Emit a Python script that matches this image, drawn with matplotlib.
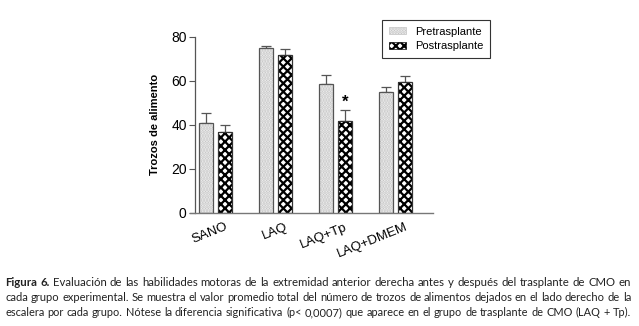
import matplotlib
matplotlib.use("Agg")
import matplotlib.pyplot as plt
import matplotlib.transforms as mtransforms
import numpy as np
from matplotlib.patches import Patch

categories = ["SANO", "LAQ", "LAQ+Tp", "LAQ+DMEM"]
pre_vals = [40.6, 74.7, 58.5, 54.7]
pre_err = [4.6, 1.1, 4.1, 2.3]
post_vals = [36.5, 71.8, 41.7, 59.5]
post_err = [3.4, 2.5, 5.0, 2.5]
series_names = ["Pretrasplante", "Postrasplante"]
yticks = [0, 20, 40, 60, 80]
ylabel = "Trozos de alimento"
caption_bold = "Figura 6."
caption_l1 = "Evaluación de las habilidades motoras de la extremidad anterior derecha antes y después del trasplante de CMO en"
caption_l2 = "cada grupo experimental. Se muestra el valor promedio total del número de trozos de alimentos dejados en el lado derecho de la"
caption_l3 = "escalera por cada grupo. Nótese la diferencia significativa (p< 0,0007) que aparece en el grupo de trasplante de CMO (LAQ + Tp)."

plt.rcParams['font.family'] = ['Liberation Sans', 'DejaVu Sans']
plt.rcParams['hatch.linewidth'] = 1.6

W, H = 639, 326
fig = plt.figure(figsize=(W / 100, H / 100), dpi=100)
ax_l, ax_r, ax_b, ax_t = 190, 433, 212.7, 36.7
ax = fig.add_axes([ax_l / W, 1 - ax_b / H, (ax_r - ax_l) / W, (ax_b - ax_t) / H])

x = np.arange(len(categories))
bw = 0.233
off = 0.158

PRE_FACE, PRE_HATCH = "#f6f6f6", "#c4c4c4"

ax.bar(x - off, pre_vals, bw, facecolor=PRE_FACE, edgecolor=PRE_HATCH, hatch="......", linewidth=0, zorder=2)
ax.bar(x - off, pre_vals, bw, fill=False, edgecolor="#555555", linewidth=0.9, zorder=3)
ax.bar(x + off, post_vals, bw, facecolor="white", edgecolor="black", hatch="xxxx", linewidth=0, zorder=2)
ax.bar(x + off, post_vals, bw, fill=False, edgecolor="#333333", linewidth=0.9, zorder=3)

ax.errorbar(x - off, pre_vals, yerr=[np.zeros(4), pre_err], fmt="none", ecolor="#555555",
            elinewidth=0.9, capsize=3.5, capthick=0.9, zorder=1)
ax.errorbar(x + off, post_vals, yerr=[np.zeros(4), post_err], fmt="none", ecolor="#555555",
            elinewidth=0.9, capsize=3.5, capthick=0.9, zorder=1)

ax.text(x[2] + off, post_vals[2] + post_err[2] + 3.5, "*", ha="center", va="center",
        fontsize=12, fontweight="bold")

ax.set_xlim(-0.425, 3.625)
ax.set_ylim(0, 80)
ax.set_yticks(yticks)
ax.set_xticks(x)
ax.set_xticklabels(categories, rotation=22, ha="right", rotation_mode="anchor", fontsize=9.5)
ax.tick_params(axis="x", length=0, pad=6)
ax.tick_params(axis="y", labelsize=10, length=4, width=0.8, color="#555555", pad=2)
for s in ["top", "right"]:
    ax.spines[s].set_visible(False)
ax.spines["left"].set_position(("axes", 5 / (ax_r - ax_l)))
ax.spines["left"].set_color("#555555")
ax.spines["left"].set_linewidth(0.9)
ax.spines["bottom"].set_color("#777777")
ax.spines["bottom"].set_linewidth(1.0)
ax.set_ylabel(ylabel, fontsize=8, fontweight="bold")
ax.yaxis.set_label_coords((160 - ax_l) / (ax_r - ax_l), 0.5)

shift = mtransforms.ScaledTranslation(9 / 100, 0, fig.dpi_scale_trans)
for lbl in ax.get_xticklabels():
    lbl.set_transform(lbl.get_transform() + shift)

handles = [Patch(facecolor=PRE_FACE, edgecolor=PRE_HATCH, hatch="......", linewidth=0.5),
           Patch(facecolor="white", edgecolor="black", hatch="xxxx", linewidth=0.5)]
leg = fig.legend(handles, series_names, loc="upper left", bbox_to_anchor=(382 / W, 1 - 20 / H),
                 borderaxespad=0, fancybox=False, edgecolor="#333333", fontsize=8,
                 handlelength=1.6, handleheight=0.6, handletextpad=0.8, labelspacing=0.4,
                 borderpad=0.6, framealpha=1)
leg.get_frame().set_linewidth(0.8)

# justified caption, each line sized to fill the width with roughly natural word spacing
base_fs = 8.0
cap_kw = dict(family=["Lato", "DejaVu Sans"], color="#222222", va="baseline")
x_left, x_right = 5, 631
lines = [
    ([(w, "bold") for w in caption_bold.split()] + [(w, "normal") for w in caption_l1.split()], 286),
    ([(w, "normal") for w in caption_l2.split()], 301),
    ([(w, "normal") for w in caption_l3.split()], 316),
]
fig.canvas.draw()
r = fig.canvas.get_renderer()
for words, ypix in lines:
    objs = [fig.text(0, 1 - ypix / H, w, fontweight=fw, fontsize=base_fs, **cap_kw) for w, fw in words]
    widths = [o.get_window_extent(r).width for o in objs]
    nat_space = 0.26 * base_fs * 100 / 72
    scale = (x_right - x_left) / (sum(widths) + nat_space * (len(objs) - 1))
    fs = base_fs * scale
    for o in objs:
        o.set_fontsize(fs)
    widths = [o.get_window_extent(r).width for o in objs]
    gap = (x_right - x_left - sum(widths)) / (len(objs) - 1)
    xp = x_left
    for o, wd in zip(objs, widths):
        o.set_x(xp / W)
        xp += wd + gap

fig.savefig("out.png", dpi=100)
